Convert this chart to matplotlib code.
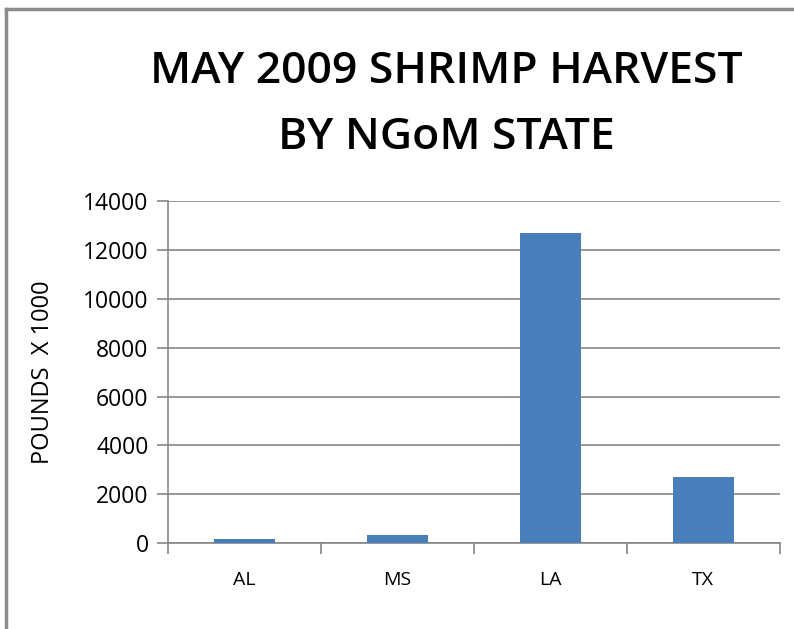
import matplotlib.pyplot as plt
from matplotlib.lines import Line2D

states = ['AL', 'MS', 'LA', 'TX']
pounds = [150, 330, 12700, 2700]
yticks = [0, 2000, 4000, 6000, 8000, 10000, 12000, 14000]

plt.rcParams['font.family'] = ['Open Sans', 'DejaVu Sans']

fig = plt.figure(figsize=(7.94, 6.29), dpi=100)
ax = fig.add_axes([0.2116, 0.1367, 0.7704, 0.5433])

x = range(len(states))
ax.bar(x, pounds, width=0.4, color='#4a7ebb', zorder=3)

ax.set_xlim(-0.5, len(states) - 0.5)
ax.set_ylim(0, 14000)
ax.set_yticks(yticks)
ax.set_yticklabels([str(v) for v in yticks], fontsize=16.5)
ax.yaxis.grid(True, color='#868686', linewidth=1.2, zorder=0)

# category labels between boundary ticks
ax.set_xticks([i - 0.5 for i in range(len(states) + 1)])
ax.set_xticklabels([])
ax.set_xticks(list(x), minor=True)
ax.set_xticklabels(states, minor=True, fontsize=14)
ax.tick_params(axis='x', which='minor', length=0, pad=20)
ax.tick_params(axis='x', which='major', length=8, width=1.2, color='#868686')
ax.tick_params(axis='y', length=8, width=1.2, color='#868686', pad=6)

for side in ['top', 'right']:
    ax.spines[side].set_visible(False)
for side in ['left', 'bottom']:
    ax.spines[side].set_color('#868686')
    ax.spines[side].set_linewidth(1.2)

ax.set_ylabel('POUNDS  X 1000', fontsize=17, labelpad=20)

fig.text(0.562, 0.886, 'MAY 2009 SHRIMP HARVEST', ha='center', va='center',
         fontsize=32, fontweight='semibold')
fig.text(0.562, 0.782, 'BY NGoM STATE', ha='center', va='center',
         fontsize=32, fontweight='semibold')

# chart frame edges
fig.add_artist(Line2D([0.008, 1.0], [0.986, 0.986], color='#8c8c8c', linewidth=2.5))
fig.add_artist(Line2D([0.008, 0.008], [0.986, 0.0], color='#8c8c8c', linewidth=2.5))

fig.savefig('out.png', dpi=100)
